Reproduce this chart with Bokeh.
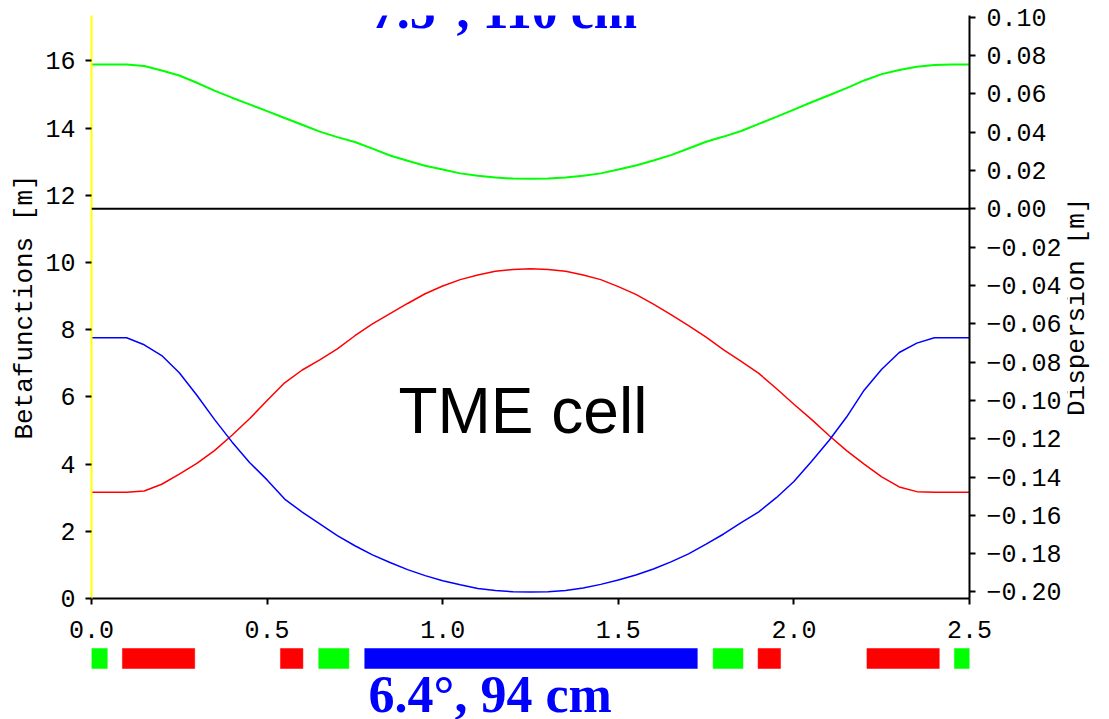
import math
from bokeh.plotting import figure
from bokeh.models import (Range1d, LinearAxis, FixedTicker, PrintfTickFormatter,
                          CustomJSTickFormatter, Span, Label, ColumnDataSource)
from bokeh.core.properties import value
from bokeh.layouts import column, row
from bokeh.embed import file_html
from bokeh.resources import INLINE

# ---- data ----
s = [0.00, 0.05, 0.10, 0.15, 0.20, 0.25, 0.30, 0.35, 0.40, 0.45,
     0.50, 0.55, 0.60, 0.65, 0.70, 0.75, 0.80, 0.85, 0.90, 0.95,
     1.00, 1.05, 1.10, 1.15, 1.20, 1.25, 1.30, 1.35, 1.40, 1.45,
     1.50, 1.55, 1.60, 1.65, 1.70, 1.75, 1.80, 1.85, 1.90, 1.95,
     2.00, 2.05, 2.10, 2.15, 2.20, 2.25, 2.30, 2.35, 2.40, 2.45, 2.50]

beta_red = [3.16, 3.16, 3.16, 3.20, 3.40, 3.70, 4.02, 4.40, 4.86, 5.35,
            5.89, 6.42, 6.80, 7.10, 7.43, 7.82, 8.17, 8.48, 8.78, 9.07,
            9.30, 9.49, 9.63, 9.74, 9.79, 9.81, 9.79, 9.74, 9.63, 9.49,
            9.28, 9.05, 8.76, 8.45, 8.12, 7.78, 7.40, 7.06, 6.70, 6.25,
            5.78, 5.33, 4.85, 4.40, 4.00, 3.62, 3.32, 3.18, 3.16, 3.16, 3.16]

beta_blue = [7.76, 7.76, 7.76, 7.55, 7.23, 6.72, 6.05, 5.33, 4.66, 4.05,
             3.53, 2.96, 2.57, 2.22, 1.87, 1.57, 1.30, 1.07, 0.86, 0.68,
             0.53, 0.41, 0.30, 0.24, 0.20, 0.19, 0.20, 0.24, 0.31, 0.42,
             0.55, 0.70, 0.88, 1.09, 1.33, 1.62, 1.92, 2.26, 2.58, 3.00,
             3.48, 4.08, 4.70, 5.40, 6.20, 6.82, 7.32, 7.60, 7.76, 7.76, 7.76]

dispersion = [0.0753, 0.0753, 0.0753, 0.0745, 0.0722, 0.0696, 0.0658, 0.0617, 0.0580, 0.0545,
              0.0510, 0.0474, 0.0439, 0.0403, 0.0374, 0.0349, 0.0314, 0.0278, 0.0251, 0.0225,
              0.0205, 0.0185, 0.0172, 0.0163, 0.0158, 0.0157, 0.0158, 0.0163, 0.0172, 0.0185,
              0.0205, 0.0226, 0.0252, 0.0280, 0.0315, 0.0350, 0.0377, 0.0406, 0.0443, 0.0480,
              0.0518, 0.0556, 0.0593, 0.0630, 0.0670, 0.0703, 0.0725, 0.0742, 0.0750, 0.0753, 0.0753]

elem_start = [0.000, 0.088, 0.538, 0.647, 0.778, 1.770, 1.898, 2.208, 2.457]
elem_end = [0.045, 0.294, 0.602, 0.733, 1.725, 1.855, 1.962, 2.414, 2.505]
elem_color = ["#00ff00", "#ff0000", "#ff0000", "#00ff00", "#0000ff",
              "#00ff00", "#ff0000", "#ff0000", "#00ff00"]

x_ticks = [0.0, 0.5, 1.0, 1.5, 2.0, 2.5]
left_ticks = [0, 2, 4, 6, 8, 10, 12, 14, 16]
right_ticks = [-0.20, -0.18, -0.16, -0.14, -0.12, -0.10, -0.08, -0.06, -0.04,
               -0.02, 0.00, 0.02, 0.04, 0.06, 0.08, 0.10]

title_top = "7.5°, 110 cm"
title_bottom = "6.4°, 94 cm"
title_mid = "TME cell"
left_label = "Betafunctions [m]"
right_label = "Dispersion [m]"

MONO = "Liberation Mono"
SERIF = "Liberation Serif"
SANS = "Liberation Sans"

# ---- main figure ----
p = figure(width=1067, height=646, x_range=Range1d(0, 2.5), y_range=Range1d(0, 17.35),
           output_backend="svg", toolbar_location=None,
           min_border_left=91, min_border_right=98, min_border_top=15, min_border_bottom=48)
p.extra_y_ranges = {"disp": Range1d(-0.2034, 0.1009)}
p.grid.visible = False
p.outline_line_color = None
p.background_fill_color = "white"
p.border_fill_color = "white"

def style_axis(ax, standoff):
    ax.major_tick_out = 6
    ax.major_tick_in = 0
    ax.minor_tick_line_color = None
    ax.major_tick_line_color = "black"
    ax.major_tick_line_width = 2
    ax.axis_line_width = 2
    ax.major_label_text_font = MONO
    ax.major_label_text_font_size = "25px"
    ax.major_label_text_color = "black"
    ax.major_label_standoff = standoff
    ax.axis_label_text_font = MONO
    ax.axis_label_text_font_size = "26px"
    ax.axis_label_text_font_style = "normal"
    ax.axis_label_text_color = "black"

xa = p.xaxis[0]
xa.ticker = FixedTicker(ticks=x_ticks)
xa.formatter = PrintfTickFormatter(format="%.1f")
style_axis(xa, 16)
xa.axis_line_color = "black"

ya = p.yaxis[0]
ya.ticker = FixedTicker(ticks=left_ticks)
ya.formatter = PrintfTickFormatter(format="%d")
style_axis(ya, 10)
ya.axis_line_color = "#ffff00"
ya.axis_label = left_label
ya.axis_label_standoff = 2

ra = LinearAxis(y_range_name="disp", ticker=FixedTicker(ticks=right_ticks),
                formatter=CustomJSTickFormatter(code="return tick.toFixed(2).replace('-', '\\u2212');"))
style_axis(ra, 11)
ra.axis_line_color = "black"
p.add_layout(ra, "right")

p.add_layout(Span(location=0, dimension="width", y_range_name="disp",
                  line_color="black", line_width=2))

src = ColumnDataSource(dict(s=s, bx=beta_red, by=beta_blue, d=dispersion))
p.line("s", "d", source=src, y_range_name="disp", line_color="#00ff00", line_width=2)
p.line("s", "bx", source=src, line_color="#ff0000", line_width=1.5)
p.line("s", "by", source=src, line_color="#0000ff", line_width=1.5)

p.add_layout(Label(x=0.795, y=17.5, text=title_top, text_font=SERIF, text_font_style="bold",
                   text_font_size="52px", text_color="#0000ff", text_baseline="alphabetic"))
p.add_layout(Label(x=0.874, y=5.59, text=title_mid, text_font=SANS,
                   text_font_size="64px", text_color="black", text_baseline="alphabetic"))

# ---- narrow strip on the right carrying the dispersion-axis title (reads bottom-to-top) ----
r = figure(width=42, height=646, x_range=Range1d(0, 42), y_range=p.y_range,
           output_backend="svg", toolbar_location=None,
           min_border_left=0, min_border_right=0, min_border_top=15, min_border_bottom=48,
           x_axis_type=None, y_axis_type=None)
r.grid.visible = False
r.outline_line_color = None
r.text(x=[9], y=[8.68], text=[right_label], angle=math.pi / 2,
       text_font=value(MONO), text_font_size="26px", text_color="black",
       text_align="center", text_baseline="middle")

# ---- element strip ----
q = figure(width=1109, height=73, x_range=p.x_range, y_range=Range1d(-73, 0),
           output_backend="svg", toolbar_location=None,
           min_border_left=91, min_border_right=140, min_border_top=0, min_border_bottom=0,
           x_axis_type=None, y_axis_type=None)
q.grid.visible = False
q.outline_line_color = None
esrc = ColumnDataSource(dict(left=elem_start, right=elem_end, color=elem_color))
q.quad(left="left", right="right", top=-2, bottom=-22, fill_color="color",
       line_color="color", line_width=0.5, source=esrc)
q.add_layout(Label(x=0.789, y=-48, text=title_bottom, text_font=SERIF, text_font_style="bold",
                   text_font_size="52px", text_color="#0000ff", text_baseline="alphabetic"))

layout = column(row(p, r, spacing=0), q, spacing=0)
open("out.html", "w").write(file_html(layout, INLINE))
